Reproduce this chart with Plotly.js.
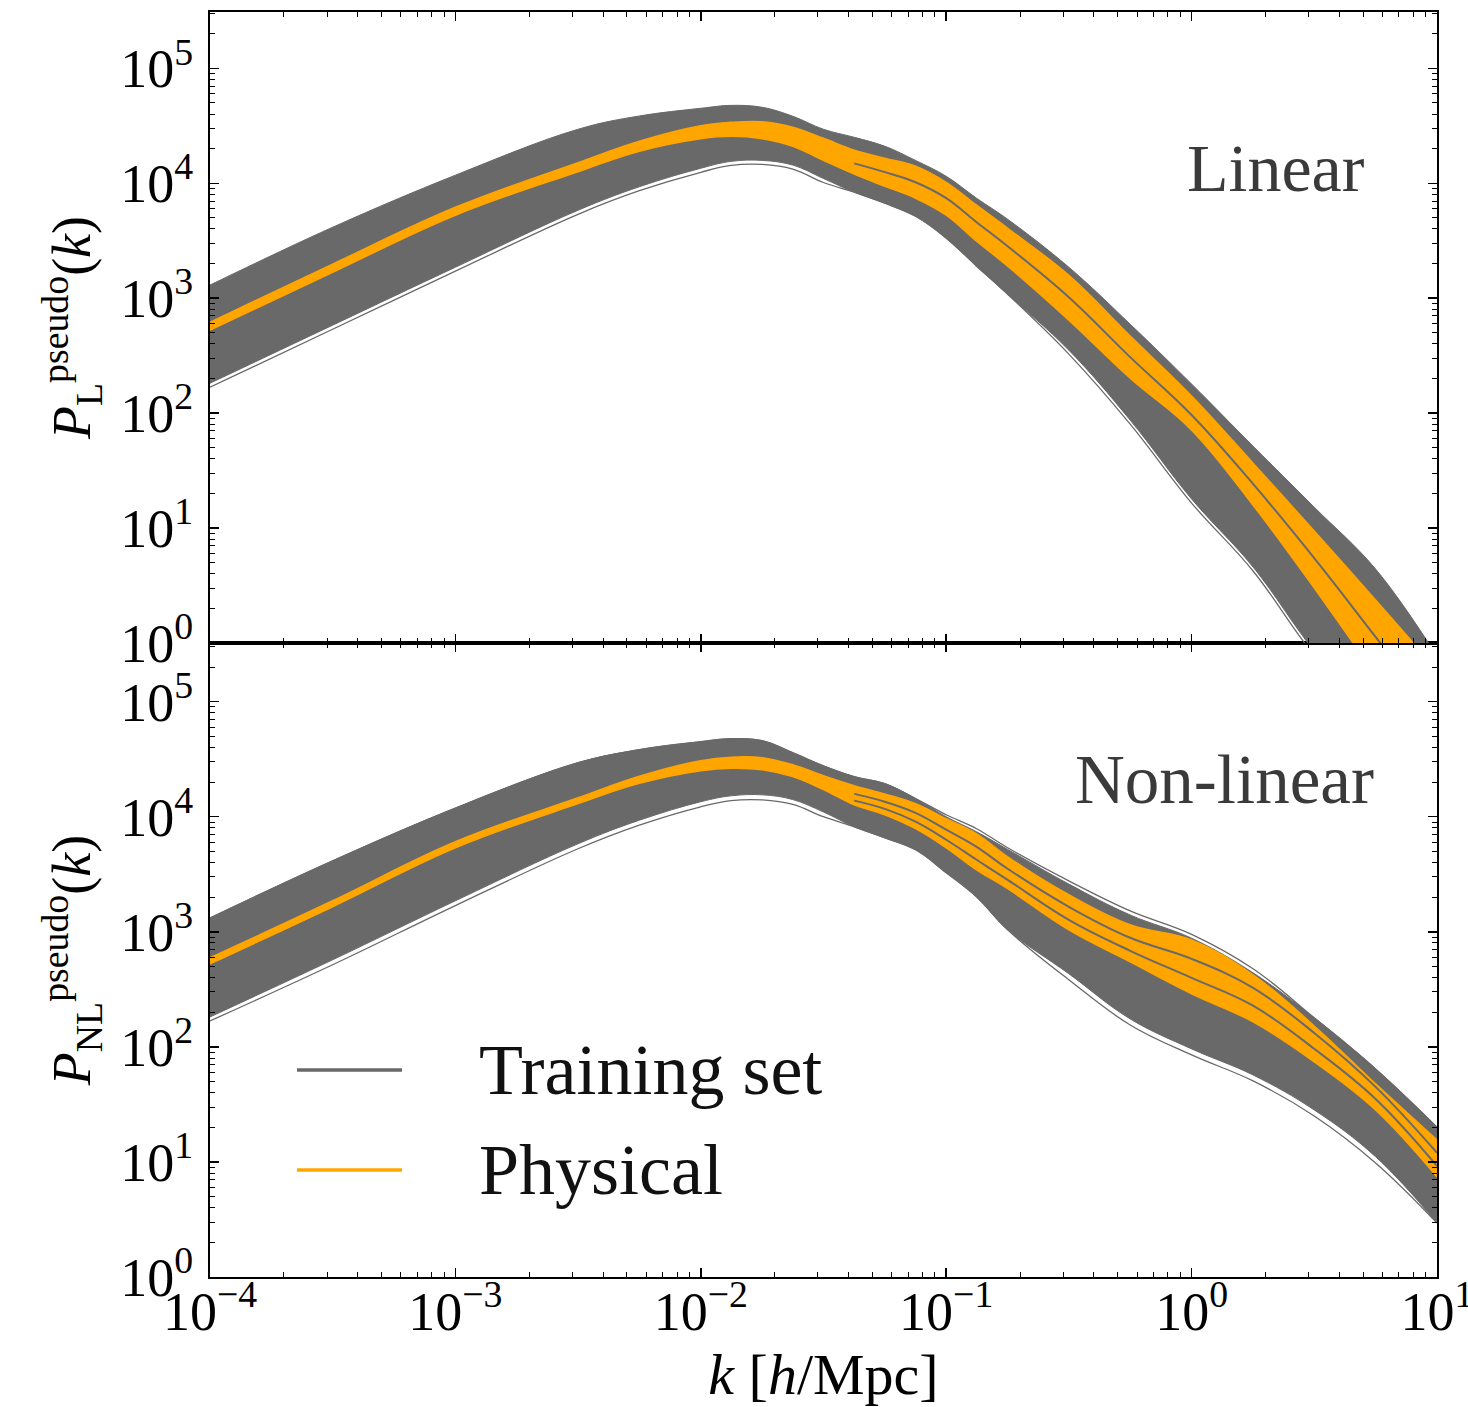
<!DOCTYPE html>
<html>
<head>
<meta charset="utf-8">
<script src="https://cdn.plot.ly/plotly-3.0.1.min.js"></script>
<style>html,body{margin:0;padding:0;background:#fff;}</style>
</head>
<body>
<div id="chart" style="width:1468px;height:1407px;"></div>
<script>
// wavenumber grid k [h/Mpc]
const kGrid = [0.0001, 0.000316, 0.001, 0.00316, 0.00562, 0.01, 0.0133, 0.0178, 0.0237, 0.0316, 0.0422, 0.0562, 0.075, 0.1, 0.133, 0.178, 0.316, 0.562, 1, 1.78, 3.16, 5.62, 10];

// Linear panel: envelope of the training set, envelope of the physical models,
// outermost training curve, one training curve inside the physical band
const linTrainUpper = [1300, 4140, 11750, 29500, 38500, 44900, 47600, 45800, 38300, 29500, 25100, 21000, 15800, 11500, 7410, 4860, 1860, 594, 179, 51.6, 15.2, 4.40, 0.77];
const linTrainLower = [182, 582, 1860, 5820, 9330, 13500, 15500, 15800, 14400, 11000, 8360, 6700, 5160, 3330, 1900, 1080, 353, 86.9, 17.9, 4.58, 0.85, 0.21, 0.052];
const linTrainOutlier = [168, 537, 1720, 5370, 8610, 12460, 14300, 14580, 13290, 10150, 8360, 6700, 5160, 3330, 1900, 1080, 326, 80.2, 16.5, 4.23, 0.78, 0.21, 0.052];
const linPhysUpper  = [618, 1980, 6180, 15100, 23200, 31600, 33900, 34300, 30700, 24600, 19400, 16500, 14100, 10200, 6440, 4060, 1580, 468, 141, 36.7, 9.42, 2.37, 0.58];
const linPhysLower  = [527, 1680, 5270, 12600, 19000, 24400, 25600, 24400, 21000, 15800, 12000, 9420, 7410, 5270, 3130, 1900, 644, 201, 71.1, 15.8, 3.01, 0.527, 0.092];
const linTrainInner = [null, null, null, null, null, null, null, null, null, null, 14900, 12500, 10200, 7410, 4580, 2830, 1020, 307, 96.2, 24.2, 5.48, 1.13, 0.232];

// Non-linear panel
const nlTrainUpper = [1320, 4140, 11900, 29500, 38300, 44900, 47600, 45800, 36000, 27700, 22300, 19400, 14400, 10000, 7400, 5200, 2600, 1400, 880, 440, 179, 64.4, 20.1];
const nlTrainLower = [182, 571, 1860, 5820, 9330, 13500, 15200, 15500, 14100, 11000, 8180, 6560, 5160, 3260, 2010, 1040, 432, 175, 96, 57, 28.3, 11.1, 2.95];
const nlTrainOutlierUp = [1320, 4140, 11900, 29500, 38300, 44900, 47600, 45800, 36000, 27700, 22300, 19400, 14400, 10400, 7870, 5370, 2770, 1520, 950, 477, 179, 64.4, 20.1];
const nlTrainOutlierLo = [168, 517, 1690, 5270, 8450, 12200, 13800, 14000, 12800, 10000, 8180, 6560, 5160, 3260, 2010, 1040, 383, 155, 85.1, 50.6, 25.1, 9.8, 2.95];
const nlPhysUpper  = [594, 1860, 6060, 14600, 22500, 30700, 32900, 32600, 28300, 22700, 18600, 15800, 13000, 9610, 7110, 4490, 2100, 1150, 851, 423, 152, 47.7, 15.5];
const nlPhysLower  = [527, 1650, 5370, 13000, 19500, 25100, 26400, 25600, 22300, 17200, 12700, 10400, 7870, 5370, 3460, 2370, 1040, 548, 289, 165, 74.1, 28.3, 7.41];
const nlTrainInnerA = [null, null, null, null, null, null, null, null, null, null, 15800, 13500, 10800, 7710, 5480, 3530, 1650, 887, 582, 326, 132, 44.9, 12.0];
const nlTrainInnerB = [null, null, null, null, null, null, null, null, null, null, 13800, 11700, 9050, 6310, 4230, 2830, 1270, 684, 398, 228, 96.2, 35.3, 9.23];

// tick labels
const yTickVals = [1, 10, 100, 1000, 10000, 100000];
const yTickText = ['10<sup>0</sup>', '10<sup>1</sup>', '10<sup>2</sup>', '10<sup>3</sup>', '10<sup>4</sup>', '10<sup>5</sup>'];
const xTickVals = [1e-4, 1e-3, 1e-2, 1e-1, 1, 10];
const xTickText = ['10<sup>\u22124</sup>', '10<sup>\u22123</sup>', '10<sup>\u22122</sup>', '10<sup>\u22121</sup>', '10<sup>0</sup>', '10<sup>1</sup>'];

const seriesNames = ['Training set', 'Physical'];
const panelLabels = ['Linear', 'Non-linear'];

const GRAY = 'rgb(105,105,105)';
const ORANGE = 'rgb(255,165,0)';
const FONT = 'Liberation Serif, DejaVu Serif, serif';

function minorVals(lo, hi) {
  const out = [];
  for (let e = lo; e < hi; e++) {
    for (let m = 2; m <= 9; m++) out.push(m * Math.pow(10, e));
  }
  return out;
}

function panel(xa, ya, tu, tl, outliers, pu, pl, inner) {
  const tr = [];
  const sp = {shape: 'spline', smoothing: 1.1};
  const base = {x: kGrid, xaxis: xa, yaxis: ya, mode: 'lines', showlegend: false, hoverinfo: 'skip'};
  tr.push(Object.assign({}, base, {y: tu, line: Object.assign({color: GRAY, width: 1}, sp)}));
  tr.push(Object.assign({}, base, {y: tl, fill: 'tonexty', fillcolor: GRAY, line: Object.assign({color: GRAY, width: 1}, sp)}));
  outliers.forEach(arr => {
    tr.push(Object.assign({}, base, {y: arr, line: Object.assign({color: GRAY, width: 1.3}, sp)}));
  });
  tr.push(Object.assign({}, base, {y: pu, line: Object.assign({color: ORANGE, width: 1.5}, sp)}));
  tr.push(Object.assign({}, base, {y: pl, fill: 'tonexty', fillcolor: ORANGE, line: Object.assign({color: ORANGE, width: 1.5}, sp)}));
  inner.forEach(arr => {
    tr.push(Object.assign({}, base, {y: arr, line: Object.assign({color: GRAY, width: 2}, sp)}));
  });
  return tr;
}

const data = [].concat(
  panel('x2', 'y', linTrainUpper, linTrainLower, [linTrainOutlier], linPhysUpper, linPhysLower, [linTrainInner]),
  panel('x', 'y2', nlTrainUpper, nlTrainLower, [nlTrainOutlierUp, nlTrainOutlierLo], nlPhysUpper, nlPhysLower, [nlTrainInnerA, nlTrainInnerB])
);

const axisCommon = {
  type: 'log', showgrid: false, zeroline: false,
  showline: true, linecolor: '#000', linewidth: 2, mirror: 'allticks',
  ticks: 'inside', ticklen: 9, tickwidth: 1.5, tickcolor: '#000',
  tickmode: 'array', ticklabeloverflow: 'allow'
};
const minorX = {ticks: 'inside', ticklen: 5, tickwidth: 1, tickcolor: '#000', tickmode: 'array', tickvals: minorVals(-4, 1), showgrid: false};
const minorY = {ticks: 'inside', ticklen: 5, tickwidth: 1, tickcolor: '#000', tickmode: 'array', tickvals: minorVals(0, 6), showgrid: false};
const tickFont = {family: FONT, size: 54, color: '#000'};
const yTitle = t => ({text: t, font: {family: FONT, size: 54, color: '#000'}, standoff: 12});

const layout = {
  width: 1468, height: 1407,
  margin: {l: 210, r: 31, t: 12, b: 130},
  paper_bgcolor: '#fff', plot_bgcolor: '#fff',
  showlegend: false,
  font: {family: FONT, color: '#000'},
  xaxis: Object.assign({}, axisCommon, {
    range: [-4, 1], anchor: 'y2', domain: [0, 1],
    tickvals: xTickVals, ticktext: xTickText, tickfont: tickFont,
    ticklabelstandoff: -14,
    minor: minorX,
    title: {text: '<i>k</i> [<i>h</i>/Mpc]', font: {family: FONT, size: 58, color: '#000'}, standoff: 10}
  }),
  xaxis2: Object.assign({}, axisCommon, {
    range: [-4, 1], anchor: 'y', matches: 'x', domain: [0, 1],
    tickvals: xTickVals, ticktext: xTickText, showticklabels: false,
    minor: minorX
  }),
  yaxis: Object.assign({}, axisCommon, {
    range: [0, 5.49], anchor: 'x2', domain: [0.5012, 1],
    tickvals: yTickVals, ticktext: yTickText, tickfont: tickFont,
    ticklabelstandoff: 4,
    minor: minorY,
    title: yTitle('<i>P</i><sub>L</sub><sup>pseudo</sup>(<i>k</i>)')
  }),
  yaxis2: Object.assign({}, axisCommon, {
    range: [0, 5.51], anchor: 'x', domain: [0, 0.5012],
    tickvals: yTickVals, ticktext: yTickText, tickfont: tickFont,
    ticklabelstandoff: 4,
    minor: minorY,
    title: yTitle('<i>P</i><sub>NL</sub><sup>pseudo</sup>(<i>k</i>)')
  }),
  annotations: [
    {text: panelLabels[0], xref: 'x2 domain', yref: 'y domain', x: 0.869, y: 0.753, xanchor: 'center', yanchor: 'middle', showarrow: false, font: {family: FONT, size: 68, color: '#3a3a3a'}},
    {text: panelLabels[1], xref: 'x domain', yref: 'y2 domain', x: 0.827, y: 0.784, xanchor: 'center', yanchor: 'middle', showarrow: false, font: {family: FONT, size: 69, color: '#3a3a3a'}},
    {text: seriesNames[0], xref: 'paper', yref: 'paper', x: 0.218, y: 0.1636, xanchor: 'left', yanchor: 'middle', showarrow: false, font: {family: FONT, size: 72, color: '#111'}},
    {text: seriesNames[1], xref: 'paper', yref: 'paper', x: 0.218, y: 0.0846, xanchor: 'left', yanchor: 'middle', showarrow: false, font: {family: FONT, size: 72, color: '#111'}}
  ],
  shapes: [
    {type: 'line', xref: 'paper', yref: 'paper', x0: 0.0709, x1: 0.1565, y0: 0.1636, y1: 0.1636, line: {color: GRAY, width: 3.5}},
    {type: 'line', xref: 'paper', yref: 'paper', x0: 0.0709, x1: 0.1565, y0: 0.0846, y1: 0.0846, line: {color: ORANGE, width: 3.5}}
  ]
};

Plotly.newPlot('chart', data, layout, {displayModeBar: false, staticPlot: true});
</script>
</body>
</html>
